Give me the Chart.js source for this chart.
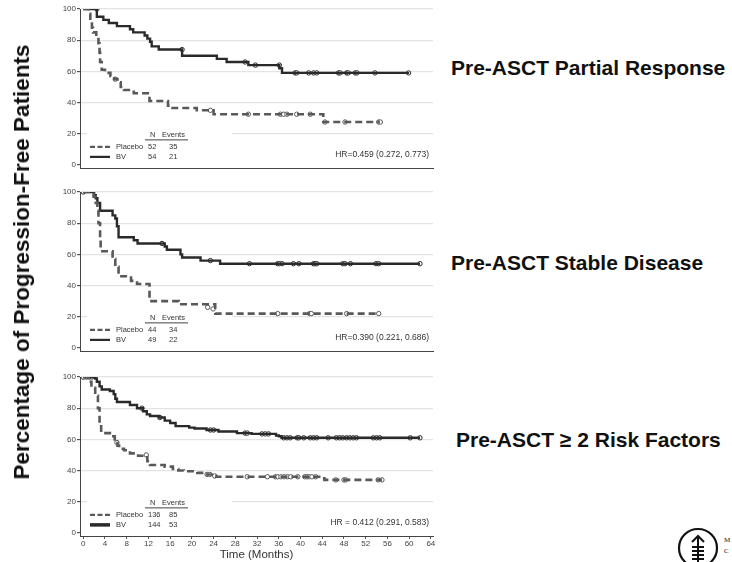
<!DOCTYPE html>
<html>
<head>
<meta charset="utf-8">
<script src="https://cdn.jsdelivr.net/npm/chart.js@4.4.1/dist/chart.umd.min.js"></script>
<style>
  body { margin: 0; background: #fff; font-family: Arial, "Liberation Sans", sans-serif; }
  #page { position: relative; width: 732px; height: 562px; overflow: hidden; }
  .panel { position: absolute; left: 0; width: 440px; }
  .side { position: absolute; font-weight: bold; font-size: 21px; color: #111; white-space: nowrap; transform: translateY(-50%); }
  #ytitle { position: absolute; left: 22px; top: 262px; font-weight: bold; font-size: 22.5px; color: #111;
            white-space: nowrap; transform: translate(-50%, -50%) rotate(-90deg); }
  #logo { position: absolute; left: 677px; top: 526px; }
</style>
</head>
<body>
<div id="page">
  <div class="panel" style="top:0px;height:175px"><canvas id="c1"></canvas></div>
  <div class="panel" style="top:183px;height:175px"><canvas id="c2"></canvas></div>
  <div class="panel" style="top:368px;height:194px"><canvas id="c3"></canvas></div>
  <div class="side" style="left:451px;top:68px">Pre-ASCT Partial Response</div>
  <div class="side" style="left:451px;top:263px">Pre-ASCT Stable Disease</div>
  <div class="side" style="left:456px;top:440px">Pre-ASCT ≥ 2 Risk Factors</div>
  <div id="ytitle">Percentage of Progression-Free Patients</div>
  <svg id="logo" width="56" height="36" viewBox="0 0 56 36">
    <circle cx="21" cy="22" r="19" fill="none" stroke="#111" stroke-width="2.2"/>
    <path d="M21 10 L21 36 M15 16 L21 10 L27 16 M15 21 H27 M15 25 H27 M15 29 H27 M15 33 H27" fill="none" stroke="#111" stroke-width="2"/>
    <text x="47" y="16" font-size="7" font-family="Liberation Serif, serif" fill="#111">M</text>
    <text x="47" y="27" font-size="7" font-family="Liberation Serif, serif" fill="#111">C</text>
  </svg>
</div>

<script>
// ---- Panel 1: Pre-ASCT Partial Response ----
const p1BvT = [0, 2.5, 3.7, 4.7, 6.2, 8.6, 9.2, 11.3, 11.8, 12.3, 12.6, 13.9, 18.2, 24.6, 26.4, 30.4, 36.1, 36.6, 60.0];
const p1BvS = [100, 95, 93, 91, 89, 87, 85, 83, 81, 79, 76, 74, 70, 68, 66, 64, 62, 59, 59];
const p1BvCensT = [2.5, 18.2, 29.8, 31.7, 36.1, 39.0, 39.3, 41.5, 42.4, 43.0, 47.0, 47.3, 48.5, 48.8, 50.1, 50.4, 53.7, 59.9];
const p1BvCensS = [100, 74, 66, 64, 64, 59, 59, 59, 59, 59, 59, 59, 59, 59, 59, 59, 59, 59];
const p1PlT = [0, 1.0, 1.3, 1.6, 1.8, 2.4, 2.8, 3.0, 3.1, 3.4, 4.0, 5.0, 5.7, 6.3, 6.9, 7.5, 9.3, 12.2, 15.6, 16.0, 20.9, 24.0, 44.2, 54.6];
const p1PlS = [100, 97, 92, 88, 85, 82, 78, 72, 66, 61, 59, 57, 55, 53, 50, 48, 46, 41, 38, 36.5, 35, 32.5, 27.5, 27.5];
const p1PlCensT = [5.9, 23.4, 30.4, 36.3, 36.9, 37.5, 39.3, 41.8, 44.5, 48.2, 54.4, 54.7];
const p1PlCensS = [55, 35, 32.5, 32.5, 32.5, 32.5, 32.5, 32.5, 27.5, 27.5, 27.5, 27.5];
const p1Table = [['Placebo', '52', '35'], ['BV', '54', '21']];
const p1Hr = 'HR=0.459 (0.272, 0.773)';

// ---- Panel 2: Pre-ASCT Stable Disease ----
const p2BvT = [0, 2.0, 2.3, 2.6, 3.1, 5.4, 5.9, 6.2, 6.5, 9.3, 10.0, 15.0, 15.4, 17.9, 18.2, 21.6, 25.2, 62.0];
const p2BvS = [100, 98, 96, 93, 88, 85, 83, 78, 71, 69, 67, 65, 63, 60, 58, 56, 54, 54];
const p2BvCensT = [0, 14.5, 23.4, 30.6, 35.8, 36.1, 36.6, 38.7, 39.7, 42.4, 42.7, 43.0, 47.8, 48.2, 49.2, 53.9, 54.4, 62.0];
const p2BvCensS = [100, 67, 56, 54, 54, 54, 54, 54, 54, 54, 54, 54, 54, 54, 54, 54, 54, 54];
const p2PlT = [0, 1.9, 2.3, 2.6, 2.8, 3.1, 3.2, 5.4, 5.9, 6.5, 8.8, 9.9, 12.2, 17.6, 24.3, 54.4];
const p2PlS = [100, 97, 93, 88, 80, 70, 62, 57, 52, 46, 43, 41, 30, 28, 22, 22];
const p2PlCensT = [22.9, 23.9, 35.8, 41.7, 42.0, 48.5, 54.4];
const p2PlCensS = [26, 25, 22, 22, 22, 22, 22];
const p2Table = [['Placebo', '44', '34'], ['BV', '49', '22']];
const p2Hr = 'HR=0.390 (0.221, 0.686)';

// ---- Panel 3: Pre-ASCT >= 2 Risk Factors ----
const p3BvT = [0, 2.2, 2.5, 3.0, 3.4, 4.9, 5.6, 5.9, 6.2, 8.6, 9.9, 11.0, 11.7, 12.3, 14.0, 15.0, 16.0, 17.0, 19.5, 20.5, 22.7, 24.9, 28.3, 31.0, 35.5, 36.0, 36.5, 62.0];
const p3BvS = [100, 99, 97, 94, 92, 91, 89, 86, 84, 82, 80, 78, 76, 75, 74, 72, 70.5, 68.5, 67.5, 67, 66, 65, 64, 63.5, 62.5, 62, 61, 61];
const p3BvCensT = [0, 0.6, 1.1, 1.6, 10.8, 14.1, 23.4, 24.0, 29.8, 30.2, 32.9, 33.5, 34.1, 36.9, 37.5, 38.1, 39.4, 39.7, 40.6, 41.8, 42.4, 43.0, 45.1, 46.6, 47.2, 47.8, 48.5, 49.1, 49.7, 50.3, 53.4, 54.0, 54.6, 60.2, 62.0];
const p3BvCensS = [100, 100, 100, 100, 80, 74, 66, 66, 64, 64, 63.5, 63.5, 63.5, 61, 61, 61, 61, 61, 61, 61, 61, 61, 61, 61, 61, 61, 61, 61, 61, 61, 61, 61, 61, 61, 61];
const p3PlT = [0, 1.0, 1.5, 2.2, 2.7, 3.0, 3.3, 4.9, 5.8, 6.3, 6.6, 7.5, 8.6, 10.1, 11.8, 12.3, 15.0, 16.5, 17.5, 18.5, 21.0, 22.8, 23.9, 24.5, 43.7, 44.4, 55.0];
const p3PlS = [100, 97, 93, 88, 80, 70, 64, 62, 60, 56, 54, 53, 51, 49.5, 46, 43.5, 42.5, 41, 40, 39.5, 38.5, 37.5, 36.5, 36, 35, 34, 34];
const p3PlCensT = [0, 6.2, 11.6, 22.8, 23.3, 24.2, 30.2, 33.9, 35.4, 35.8, 36.4, 37.0, 37.6, 38.2, 39.5, 40.8, 41.2, 41.6, 42.1, 42.8, 46.5, 48.0, 48.3, 54.3, 55.0];
const p3PlCensS = [100, 58, 50, 37.5, 37.5, 36.5, 36, 36, 36, 36, 36, 36, 36, 36, 36, 36, 36, 36, 36, 36, 34, 34, 34, 34, 34];
const p3Table = [['Placebo', '136', '85'], ['BV', '144', '53']];
const p3Hr = 'HR = 0.412 (0.291, 0.583)';

const yTicks = [0, 20, 40, 60, 80, 100];
const xTicks = [0, 4, 8, 12, 16, 20, 24, 28, 32, 36, 40, 44, 48, 52, 56, 60, 64];

const BV_COLOR = '#2a2a2a';
const PL_COLOR = '#595959';
const FONT = 'Arial, "Liberation Sans", sans-serif';

function pts(xs, ys) {
  return xs.map((x, i) => ({ x: x, y: ys[i] }));
}

// legend table + HR text
function tablePlugin(rows, hr, boldBv) {
  return {
    id: 'kmTable',
    beforeDatasetsDraw(chart) {
      // white box hides the 20% gridline behind the table (curves still drawn on top)
      const ctx = chart.ctx;
      const y0 = chart.scales.y.getPixelForValue(0);
      ctx.save();
      ctx.fillStyle = '#ffffff';
      ctx.fillRect(chart.chartArea.left + 7, y0 - 36, 145, 35);
      ctx.restore();
    },
    afterDatasetsDraw(chart) {
      const ctx = chart.ctx;
      const y0 = chart.scales.y.getPixelForValue(0);
      const area = chart.chartArea;
      ctx.save();
      ctx.font = '7.5px ' + FONT;
      ctx.fillStyle = '#333';
      ctx.textBaseline = 'middle';
      ctx.fillText('N', 150, y0 - 30);
      ctx.fillText('Events', 162, y0 - 30);
      ctx.strokeStyle = '#444';
      ctx.lineWidth = 1;
      ctx.beginPath();
      ctx.moveTo(145, y0 - 25);
      ctx.lineTo(188, y0 - 25);
      ctx.stroke();

      rows.forEach((r, i) => {
        const ry = y0 - 18 + i * 10;
        ctx.beginPath();
        ctx.strokeStyle = i === 0 ? PL_COLOR : BV_COLOR;
        ctx.lineWidth = (i === 1 && boldBv) ? 3.5 : 2.2;
        ctx.setLineDash(i === 0 ? [5, 2.5] : []);
        ctx.moveTo(90, ry);
        ctx.lineTo(110, ry);
        ctx.stroke();
        ctx.setLineDash([]);
        ctx.fillStyle = '#333';
        ctx.fillText(r[0], 116, ry);
        ctx.fillText(r[1], 148, ry);
        ctx.fillText(r[2], 169, ry);
      });

      ctx.font = '8.5px ' + FONT;
      ctx.textAlign = 'right';
      ctx.fillText(hr, area.right - 4, y0 - 10);
      ctx.restore();
    }
  };
}

function makePanel(id, bvT, bvS, bvCT, bvCS, plT, plS, plCT, plCS, rows, hr, showX) {
  const censorStyle = (color) => ({
    type: 'scatter',
    showLine: false,
    pointStyle: 'circle',
    pointRadius: 2.2,
    pointBorderWidth: 1,
    pointBackgroundColor: '#ffffff',
    pointBorderColor: color,
    borderColor: color
  });

  new Chart(document.getElementById(id), {
    type: 'line',
    data: {
      datasets: [
        {
          label: 'Placebo',
          data: pts(plT, plS),
          stepped: true,
          borderColor: PL_COLOR,
          borderWidth: 2.6,
          borderDash: [7, 4],
          pointRadius: 0,
          fill: false
        },
        {
          label: 'BV',
          data: pts(bvT, bvS),
          stepped: true,
          borderColor: BV_COLOR,
          borderWidth: 2.4,
          pointRadius: 0,
          fill: false
        },
        Object.assign({ label: 'Placebo censored', data: pts(plCT, plCS) }, censorStyle(PL_COLOR)),
        Object.assign({ label: 'BV censored', data: pts(bvCT, bvCS) }, censorStyle(BV_COLOR))
      ]
    },
    options: {
      responsive: true,
      maintainAspectRatio: false,
      animation: false,
      layout: { padding: { top: 9, right: 7, left: 0, bottom: 0 } },
      plugins: {
        legend: { display: false },
        tooltip: { enabled: false }
      },
      scales: {
        x: {
          type: 'linear',
          min: -0.6,
          max: 64.4,
          afterBuildTicks: (scale) => { scale.ticks = xTicks.map(v => ({ value: v })); },
          afterFit: (scale) => { scale.height = showX ? 26 : 7; },
          ticks: {
            display: showX,
            autoSkip: false,
            maxRotation: 0,
            padding: 0,
            font: { size: 8, family: FONT },
            color: '#444'
          },
          grid: { display: true, drawOnChartArea: false, drawTicks: showX, tickLength: 3, tickColor: '#555' },
          border: { display: true, color: '#444', width: 1 },
          title: {
            display: showX,
            text: 'Time (Months)',
            font: { size: 11.5, family: FONT },
            color: '#333',
            padding: { top: 0, bottom: 0 }
          }
        },
        y: {
          min: -2,
          max: 100,
          afterBuildTicks: (scale) => { scale.ticks = yTicks.map(v => ({ value: v })); },
          afterFit: (scale) => { scale.width = 80; },
          ticks: {
            padding: 1,
            font: { size: 8, family: FONT },
            color: '#444'
          },
          grid: {
            color: (c) => c.tick && c.tick.value === 0 ? 'rgba(0,0,0,0)' : '#e3e3e3',
            lineWidth: 1.2,
            tickLength: 3,
            tickColor: '#555'
          },
          border: { display: true, color: '#444', width: 1 }
        }
      }
    },
    plugins: [tablePlugin(rows, hr, showX)]
  });
}

makePanel('c1', p1BvT, p1BvS, p1BvCensT, p1BvCensS, p1PlT, p1PlS, p1PlCensT, p1PlCensS, p1Table, p1Hr, false);
makePanel('c2', p2BvT, p2BvS, p2BvCensT, p2BvCensS, p2PlT, p2PlS, p2PlCensT, p2PlCensS, p2Table, p2Hr, false);
makePanel('c3', p3BvT, p3BvS, p3BvCensT, p3BvCensS, p3PlT, p3PlS, p3PlCensT, p3PlCensS, p3Table, p3Hr, true);
</script>
</body>
</html>
